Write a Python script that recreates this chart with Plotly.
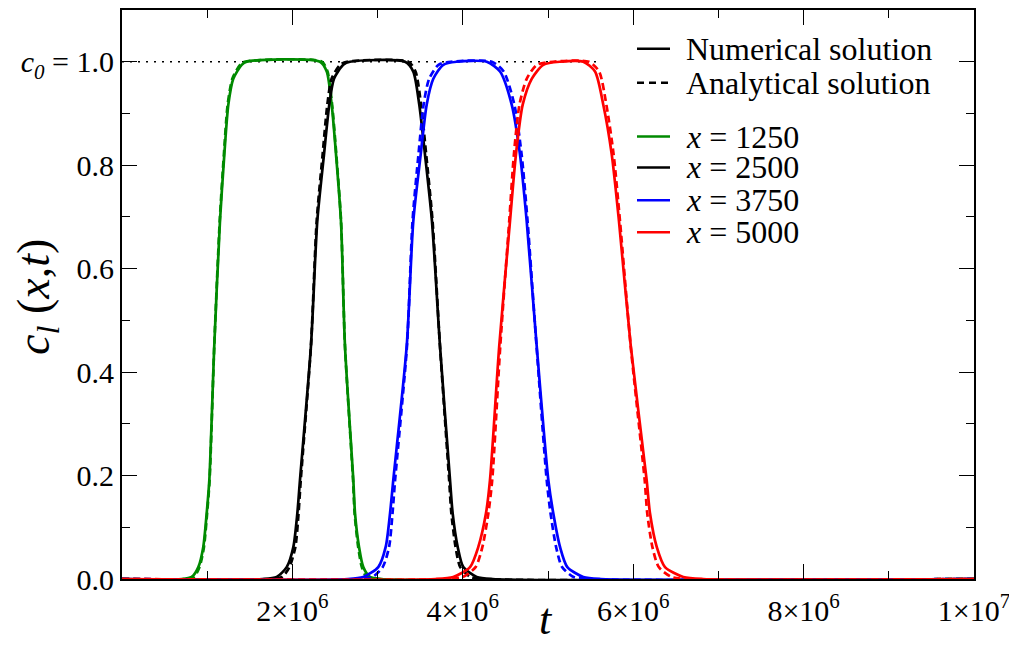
import plotly.graph_objects as go

# ---- data (time in units of 1e6) ----
C_RISE = [0.0, 0.004, 0.023, 0.062, 0.127, 0.191, 0.451, 0.692, 0.821, 0.917, 0.967, 0.994, 1.0]
C_FALL = [1.0, 0.981, 0.917, 0.821, 0.692, 0.451, 0.191, 0.127, 0.062, 0.023, 0.004, 0.0]

# numerical solution: rise / fall times (first rise entry and last fall entry = baseline)
num_1250_rise = [0.70, 0.818, 0.896, 0.954, 0.994, 1.025, 1.083, 1.150, 1.201, 1.248, 1.306, 1.405, 1.464]
num_1250_fall = [2.324, 2.403, 2.461, 2.512, 2.570, 2.617, 2.715, 2.735, 2.782, 2.832, 2.911, 3.05]
num_2500_rise = [1.65, 1.816, 1.933, 2.011, 2.058, 2.089, 2.218, 2.292, 2.371, 2.433, 2.488, 2.597, 2.676]
num_2500_fall = [3.322, 3.419, 3.489, 3.556, 3.638, 3.732, 3.850, 3.881, 3.940, 4.006, 4.163, 4.35]
num_3750_rise = [2.65, 2.832, 3.008, 3.095, 3.146, 3.184, 3.342, 3.419, 3.506, 3.576, 3.654, 3.771, 3.928]
num_3750_fall = [4.281, 4.437, 4.574, 4.671, 4.750, 4.867, 5.004, 5.062, 5.141, 5.227, 5.414, 5.62]
num_5000_rise = [3.68, 3.889, 4.085, 4.182, 4.272, 4.319, 4.428, 4.554, 4.624, 4.703, 4.809, 4.945, 5.141]
num_5000_fall = [5.414, 5.552, 5.649, 5.748, 5.833, 5.971, 6.158, 6.197, 6.276, 6.373, 6.588, 6.82]

# analytical solution: rise / fall times
ana_1250_rise = [0.74, 0.845, 0.910, 0.962, 0.999, 1.028, 1.083, 1.147, 1.196, 1.240, 1.295, 1.385, 1.440]
ana_1250_fall = [2.345, 2.412, 2.466, 2.515, 2.571, 2.617, 2.712, 2.730, 2.772, 2.815, 2.870, 2.98]
ana_2500_rise = [1.74, 1.880, 1.965, 2.035, 2.072, 2.098, 2.218, 2.285, 2.355, 2.410, 2.460, 2.560, 2.640]
ana_2500_fall = [3.360, 3.445, 3.510, 3.570, 3.645, 3.732, 3.840, 3.866, 3.915, 3.970, 4.090, 4.24]
ana_3750_rise = [2.78, 2.940, 3.060, 3.135, 3.175, 3.205, 3.345, 3.410, 3.480, 3.540, 3.605, 3.715, 3.860]
ana_3750_fall = [4.340, 4.480, 4.605, 4.690, 4.760, 4.865, 4.985, 5.030, 5.095, 5.165, 5.300, 5.47]
ana_5000_rise = [3.82, 4.000, 4.150, 4.230, 4.300, 4.345, 4.440, 4.545, 4.600, 4.665, 4.750, 4.870, 5.060]
ana_5000_fall = [5.480, 5.600, 5.685, 5.770, 5.845, 5.970, 6.135, 6.165, 6.225, 6.300, 6.450, 6.64]

T_START, T_END = 0.0, 10.0
C0_LINE_T = [0.0, 5.6]
C0_LINE_C = [1.0, 1.0]

series_labels = ["1250", "2500", "3750", "5000"]
series_colors = ["#008a00", "#000000", "#0000ff", "#ff0000"]
num_sets = [(num_1250_rise, num_1250_fall), (num_2500_rise, num_2500_fall),
            (num_3750_rise, num_3750_fall), (num_5000_rise, num_5000_fall)]
ana_sets = [(ana_1250_rise, ana_1250_fall), (ana_2500_rise, ana_2500_fall),
            (ana_3750_rise, ana_3750_fall), (ana_5000_rise, ana_5000_fall)]

x_tickvals = [2, 4, 6, 8, 10]
x_ticktext = ["2×10<sup>6</sup>", "4×10<sup>6</sup>", "6×10<sup>6</sup>", "8×10<sup>6</sup>", "1×10<sup>7</sup>"]
x_minor = [1, 3, 5, 7, 9]
y_tickvals = [0, 0.2, 0.4, 0.6, 0.8, 1.0]
y_ticktext = ["0.0", "0.2", "0.4", "0.6", "0.8", "<i>c</i><sub><i>0</i></sub>\u00a0=\u00a01.0"]
y_minor = [0.1, 0.3, 0.5, 0.7, 0.9]

FONT = "Liberation Serif"

fig = go.Figure()

fig.add_trace(go.Scatter(x=C0_LINE_T, y=C0_LINE_C, mode="lines",
                         line=dict(color="black", width=1.5, dash="2px,6px"),
                         showlegend=False, hoverinfo="skip"))

for lab, col, (nr, nf), (ar, af) in zip(series_labels, series_colors, num_sets, ana_sets):
    tn = [T_START] + nr + nf + [T_END]
    ta = [T_START] + ar + af + [T_END]
    cc_full = [0.0] + C_RISE + C_FALL + [0.0]
    fig.add_trace(go.Scatter(x=tn, y=cc_full, mode="lines",
                             line=dict(color=col, width=2.7, shape="spline", smoothing=0.7),
                             showlegend=False, name="num x=" + lab))
    fig.add_trace(go.Scatter(x=ta, y=cc_full, mode="lines",
                             line=dict(color=col, width=2.7, dash="7px,4px", shape="spline", smoothing=0.7),
                             showlegend=False, name="ana x=" + lab))

# The page is offset by the body margin (8px); figure px = page px - 8
OFF = 8
W, H = 1017 - OFF, 661 - OFF
L, R, T, B = 122 - OFF, 974 - OFF, 0, 579 - OFF


def px2paper(px, py):
    # px, py in page coordinates
    return (px - OFF - L) / (R - L), (B - (py - OFF)) / (B - T)


# legend drawn manually
legend_rows = [
    ("Numerical solution", "black", "solid", 47),
    ("Analytical solution", "black", "7px,5px", 81),
    ("<i>x</i> = 1250", series_colors[0], "solid", 135),
    ("<i>x</i> = 2500", series_colors[1], "solid", 166),
    ("<i>x</i> = 3750", series_colors[2], "solid", 199),
    ("<i>x</i> = 5000", series_colors[3], "solid", 231),
]
for text, col, dash, py in legend_rows:
    x0, yy = px2paper(637, py)
    x1, _ = px2paper(670, py)
    xt, _ = px2paper(685, py)
    fig.add_shape(type="line", xref="paper", yref="paper", x0=x0, x1=x1, y0=yy, y1=yy,
                  line=dict(color=col, width=2.5, dash=dash))
    fig.add_annotation(xref="paper", yref="paper", x=xt, y=yy, text=text, showarrow=False,
                       xanchor="left", yanchor="middle", borderpad=0,
                       font=dict(family=FONT, size=32, color="black"))

# axis titles
xx, yy = px2paper(546, 620)
fig.add_annotation(xref="paper", yref="paper", x=xx, y=yy, text="<i>t</i>", showarrow=False,
                   xanchor="center", yanchor="middle", font=dict(family=FONT, size=44, color="black"))
xx, yy = px2paper(37, 296)
fig.add_annotation(xref="paper", yref="paper", x=xx, y=yy,
                   text="<i>c</i><sub><i>l</i></sub> (<i>x</i>,<i>t</i>)", showarrow=False, textangle=-90,
                   xanchor="center", yanchor="middle", font=dict(family=FONT, size=46, color="black"))

axis_common = dict(showline=True, linewidth=2, linecolor="black", mirror="allticks", showgrid=False,
                   zeroline=False, ticks="inside", ticklen=15, tickwidth=1.3, tickcolor="black",
                   tickfont=dict(family=FONT, size=30, color="black"))

fig.update_xaxes(range=[0, 10], tickmode="array", tickvals=x_tickvals, ticktext=x_ticktext,
                 ticklabelstandoff=4,
                 minor=dict(tickmode="array", tickvals=x_minor, ticks="inside", ticklen=8, tickwidth=1.3,
                            tickcolor="black", showgrid=False),
                 **axis_common)
fig.update_yaxes(range=[0, 1.1], tickmode="array", tickvals=y_tickvals, ticktext=y_ticktext,
                 minor=dict(tickmode="array", tickvals=y_minor, ticks="inside", ticklen=8, tickwidth=1.3,
                            tickcolor="black", showgrid=False),
                 **axis_common)

fig.update_layout(width=W, height=H, margin=dict(l=L, r=W - R, t=T, b=H - B, pad=0),
                  plot_bgcolor="white", paper_bgcolor="white", showlegend=False,
                  font=dict(family=FONT, color="black"))

fig.write_html("out.html")
